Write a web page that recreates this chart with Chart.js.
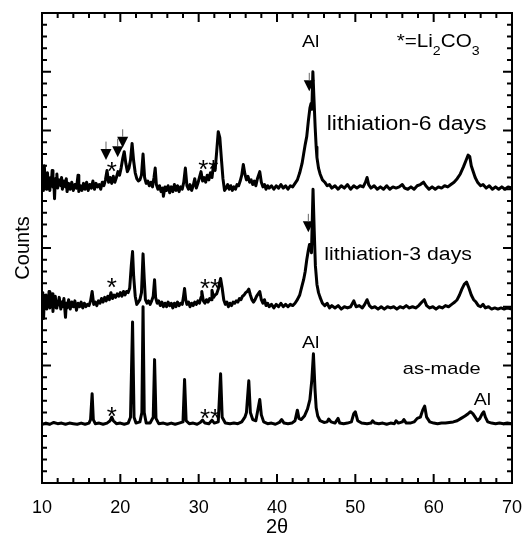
<!DOCTYPE html>
<html>
<head>
<meta charset="utf-8">
<script src="https://cdn.jsdelivr.net/npm/chart.js@4.4.0/dist/chart.umd.min.js"></script>
<style>
  body { margin: 0; background: #fff; }
  #wrap { width: 522px; height: 537px; }
</style>
</head>
<body>
<div id="wrap"><canvas id="xrd" width="522" height="537"></canvas></div>
<script>
// XRD patterns, [2theta, counts] (counts in arbitrary units, each trace offset)
const lith6 = [
  [10.0,25.2],[10.1,26.3],[10.2,24.9],[10.3,27.0],[10.4,25.4],[10.5,26.1],[10.6,25.0],[10.7,26.4],[10.8,25.3],[10.9,25.9],
  [11.0,24.9],[11.1,26.0],[11.2,25.6],[11.3,26.6],[11.4,25.2],[11.5,25.8],[11.6,24.2],[11.7,25.9],[11.8,25.5],[11.9,26.3],
  [12.0,25.1],[12.2,25.8],[12.4,25.3],[12.5,26.0],[12.6,25.0],[12.8,25.7],[13.0,25.2],[13.1,25.9],[13.2,24.8],[13.4,25.5],
  [13.6,25.0],[13.8,25.6],[14.0,24.9],[14.2,25.4],[14.4,25.1],[14.6,26.2],[14.7,24.8],[14.9,25.3],[15.1,24.9],[15.3,25.5],
  [15.5,25.0],[15.7,25.6],[15.9,24.9],[16.1,25.4],[16.3,25.1],[16.5,25.7],[16.7,25.0],[16.9,25.5],[17.1,25.2],[17.3,25.4],
  [17.5,25.0],[17.7,25.6],[17.9,25.3],[18.1,25.8],[18.3,26.6],[18.5,25.6],[18.7,26.0],[18.9,25.5],[19.1,26.1],[19.3,25.6],
  [19.5,26.0],[19.7,26.5],[19.9,26.2],[20.1,26.8],[20.3,27.6],[20.5,28.2],[20.7,27.2],[20.9,26.5],[21.1,26.8],[21.3,27.5],
  [21.5,28.9],[21.7,27.4],[21.9,26.4],[22.1,25.9],[22.3,25.7],[22.5,25.8],[22.7,26.2],[22.9,28.0],[23.1,26.0],[23.3,25.5],
  [23.5,25.7],[23.7,25.3],[23.9,25.6],[24.1,25.2],[24.3,26.0],[24.45,26.8],[24.6,25.4],[24.8,25.0],[25.0,25.3],[25.2,24.8],
  [25.4,25.1],[25.5,24.4],[25.7,25.2],[25.9,24.9],[26.1,25.3],[26.3,24.7],[26.5,25.2],[26.7,24.8],[26.9,25.4],[27.1,24.9],
  [27.3,25.3],[27.5,24.8],[27.7,25.2],[27.9,25.0],[28.1,25.6],[28.3,26.8],[28.5,25.3],[28.7,25.0],[28.9,25.4],[29.1,24.9],
  [29.3,25.3],[29.5,25.9],[29.7,25.1],[29.9,25.5],[30.1,26.0],[30.3,26.5],[30.5,25.7],[30.7,26.0],[30.9,25.6],[31.1,26.2],
  [31.3,25.8],[31.5,26.4],[31.7,26.0],[31.9,27.1],[32.1,26.6],[32.3,28.2],[32.5,29.9],[32.7,29.4],[32.9,27.6],[33.1,25.9],
  [33.3,24.9],[33.5,25.1],[33.7,25.4],[33.9,25.0],[34.1,25.3],[34.3,24.9],[34.5,25.2],[34.7,25.0],[34.9,25.4],[35.1,25.3],
  [35.3,25.7],[35.5,26.2],[35.7,27.1],[35.9,26.3],[36.1,25.8],[36.3,26.1],[36.5,25.6],[36.7,25.8],[36.9,25.4],[37.1,25.7],
  [37.3,25.3],[37.5,25.9],[37.8,26.5],[38.0,25.6],[38.2,25.2],[38.4,25.4],[38.6,25.0],[38.8,25.3],[39.0,25.1],[39.3,25.3],
  [39.6,25.0],[39.9,25.3],[40.2,25.1],[40.5,25.4],[40.8,25.1],[41.1,25.3],[41.4,25.0],[41.7,25.3],[42.0,25.2],[42.3,25.5],
  [42.6,25.8],[42.9,26.4],[43.2,27.2],[43.4,28.0],[43.6,28.8],[43.8,29.5],[44.0,30.8],[44.2,31.9],[44.35,32.3],[44.45,31.8],
  [44.58,35.0],[44.7,33.0],[44.87,30.3],[45.0,28.6],[45.1,27.7],[45.3,26.8],[45.5,26.3],[45.8,25.8],[46.1,25.6],[46.4,25.3],
  [46.7,25.4],[47.0,25.1],[47.4,25.3],[47.8,25.0],[48.2,25.3],[48.6,25.1],[49.0,25.4],[49.4,25.0],[49.8,25.3],[50.2,25.1],
  [50.6,25.3],[51.0,25.2],[51.3,25.6],[51.5,26.0],[51.7,25.4],[52.0,25.1],[52.4,25.3],[52.8,25.0],[53.2,25.2],[53.6,25.0],
  [54.0,25.3],[54.4,25.0],[54.8,25.2],[55.2,25.1],[55.6,25.2],[56.0,25.4],[56.3,25.1],[56.7,25.0],[57.1,25.2],[57.5,25.0],
  [57.9,25.3],[58.3,25.4],[58.7,25.6],[59.0,25.3],[59.4,25.0],[59.8,25.2],[60.2,25.0],[60.6,25.2],[61.0,25.1],[61.4,25.3],
  [61.8,25.2],[62.2,25.4],[62.6,25.6],[63.0,25.9],[63.4,26.3],[63.8,26.9],[64.1,27.4],[64.4,27.9],[64.6,27.8],[64.8,27.0],
  [65.0,26.6],[65.3,26.0],[65.6,25.6],[66.0,25.3],[66.3,25.4],[66.7,25.1],[67.1,25.3],[67.5,25.0],[67.9,25.2],[68.3,25.0],
  [68.7,25.2],[69.1,25.0],[69.5,25.2],[70.0,25.1]
];

const lith3 = [
  [10.0,15.0],[10.1,16.2],[10.2,14.0],[10.3,15.8],[10.4,15.1],[10.5,16.0],[10.6,14.8],[10.7,15.9],[10.8,15.2],[10.9,16.3],
  [11.0,14.9],[11.1,15.7],[11.2,15.0],[11.3,16.1],[11.4,14.6],[11.5,15.6],[11.6,15.0],[11.7,15.9],[11.8,14.9],[11.9,15.5],
  [12.0,15.1],[12.2,15.8],[12.4,14.8],[12.5,15.4],[12.6,15.0],[12.8,15.7],[13.0,14.1],[13.1,15.3],[13.2,14.9],[13.4,15.6],
  [13.6,14.8],[13.8,15.4],[14.0,15.0],[14.2,15.5],[14.4,14.7],[14.6,15.3],[14.8,15.0],[15.0,15.4],[15.2,14.9],[15.4,15.3],
  [15.6,15.0],[15.8,15.2],[16.0,15.1],[16.2,15.5],[16.4,16.3],[16.6,15.2],[16.8,15.4],[17.0,15.1],[17.2,15.5],[17.4,15.3],
  [17.6,15.7],[17.8,15.4],[18.0,15.8],[18.2,15.5],[18.4,15.9],[18.6,15.6],[18.8,16.2],[19.0,15.7],[19.2,16.0],[19.4,15.8],
  [19.6,16.1],[19.8,15.9],[20.0,16.2],[20.2,15.9],[20.4,16.3],[20.6,16.0],[20.8,16.3],[21.0,16.2],[21.2,16.6],[21.4,18.5],
  [21.56,19.7],[21.7,17.6],[21.9,15.9],[22.1,15.2],[22.3,15.4],[22.5,15.6],[22.7,16.2],[22.9,19.5],[23.05,17.4],[23.2,15.6],
  [23.4,15.3],[23.6,15.5],[23.8,15.2],[24.0,15.5],[24.2,15.9],[24.37,17.3],[24.5,15.8],[24.7,15.3],[24.9,15.5],[25.1,15.1],
  [25.3,15.4],[25.5,15.0],[25.7,15.3],[25.9,15.0],[26.1,15.4],[26.3,15.1],[26.5,15.3],[26.7,14.9],[26.9,15.3],[27.1,15.0],
  [27.3,15.4],[27.5,15.1],[27.7,15.3],[27.9,15.2],[28.05,15.8],[28.2,16.55],[28.35,15.6],[28.5,15.2],[28.7,15.4],[28.9,15.0],
  [29.1,15.3],[29.3,15.1],[29.5,15.4],[29.7,15.2],[29.9,15.5],[30.1,15.3],[30.3,15.8],[30.4,16.3],[30.6,15.5],[30.8,15.3],
  [31.0,15.6],[31.2,15.4],[31.4,15.7],[31.6,15.6],[31.7,16.4],[31.9,15.8],[32.1,16.0],[32.3,16.1],[32.5,16.5],[32.7,17.1],
  [32.8,17.4],[33.0,16.6],[33.2,15.6],[33.4,15.2],[33.6,15.4],[33.8,15.0],[34.0,15.3],[34.2,15.1],[34.4,15.4],[34.6,15.3],
  [34.8,15.5],[35.0,15.4],[35.2,15.7],[35.4,15.6],[35.6,15.9],[35.8,16.0],[36.0,16.2],[36.2,16.3],[36.4,16.5],[36.6,16.0],
  [36.8,15.6],[37.0,15.4],[37.2,15.6],[37.4,15.9],[37.6,16.1],[37.8,16.3],[38.0,15.6],[38.2,15.3],[38.4,15.6],[38.6,15.1],
  [38.8,15.3],[39.0,15.0],[39.3,15.2],[39.6,14.9],[39.9,15.2],[40.2,15.0],[40.5,15.3],[40.8,15.0],[41.1,15.2],[41.4,15.0],
  [41.7,15.2],[42.0,15.1],[42.3,15.3],[42.6,15.6],[42.9,16.0],[43.2,16.8],[43.4,17.3],[43.6,18.0],[43.8,19.0],[44.0,19.8],
  [44.15,20.3],[44.3,20.0],[44.4,19.6],[44.6,25.0],[44.75,21.5],[44.9,18.5],[45.1,16.9],[45.3,16.2],[45.5,15.8],[45.8,15.3],
  [46.1,15.1],[46.4,15.3],[46.7,14.9],[47.0,15.1],[47.4,14.9],[47.8,15.1],[48.2,14.8],[48.6,15.0],[49.0,14.9],[49.4,15.0],
  [49.8,15.5],[50.1,15.0],[50.5,15.1],[50.9,14.9],[51.2,15.2],[51.5,15.6],[51.8,15.1],[52.1,14.9],[52.5,15.0],[52.9,14.8],
  [53.3,15.0],[53.7,14.8],[54.1,15.0],[54.5,14.9],[54.9,15.0],[55.3,14.8],[55.7,15.0],[56.1,14.9],[56.5,15.1],[56.9,14.9],
  [57.3,15.0],[57.7,14.9],[58.1,15.1],[58.5,15.4],[58.8,15.6],[59.1,15.1],[59.5,14.9],[59.9,15.0],[60.3,14.8],[60.7,15.0],
  [61.1,14.9],[61.5,15.1],[61.9,15.0],[62.3,15.2],[62.7,15.4],[63.0,15.6],[63.3,16.0],[63.6,16.5],[63.9,16.9],[64.2,17.1],
  [64.5,16.6],[64.8,16.0],[65.1,15.6],[65.4,15.4],[65.7,15.1],[66.0,15.0],[66.3,15.2],[66.6,14.9],[67.0,15.0],[67.4,14.8],
  [67.8,14.9],[68.2,14.8],[68.6,14.9],[69.0,14.8],[69.4,14.9],[70.0,14.8]
];

const asMade = [
  [10.0,5.0],[10.5,5.1],[11.0,5.0],[11.5,5.15],[12.0,5.05],[12.5,5.1],[13.0,5.0],[13.5,5.1],[14.0,5.05],[14.5,5.0],
  [15.0,5.1],[15.5,5.0],[16.0,5.1],[16.2,5.4],[16.4,7.6],[16.55,5.4],[16.8,5.05],[17.3,5.1],[17.8,5.0],[18.3,5.1],
  [18.7,5.3],[18.9,5.6],[19.1,5.3],[19.5,5.05],[20.0,5.1],[20.5,5.0],[21.0,5.1],[21.3,5.6],[21.56,13.7],[21.75,5.6],
  [22.0,5.1],[22.5,5.2],[22.75,6.0],[22.9,15.0],[23.05,6.0],[23.3,5.1],[23.8,5.1],[24.2,5.6],[24.37,10.5],[24.55,5.5],
  [24.9,5.05],[25.5,5.1],[26.0,5.0],[26.5,5.1],[27.0,5.0],[27.5,5.1],[28.0,5.2],[28.2,8.8],[28.4,5.3],[28.8,5.05],
  [29.3,5.1],[29.8,5.0],[30.2,5.15],[30.5,5.35],[30.8,5.1],[31.3,5.05],[31.7,5.35],[32.0,5.1],[32.5,5.2],[32.8,9.3],
  [33.0,5.6],[33.4,5.1],[34.0,5.05],[34.5,5.1],[35.0,5.05],[35.5,5.2],[35.9,5.6],[36.1,6.0],[36.4,8.7],[36.6,6.0],
  [36.9,5.4],[37.3,5.3],[37.55,6.2],[37.8,7.1],[38.0,5.8],[38.3,5.2],[38.8,5.05],[39.3,5.1],[39.8,5.0],[40.3,5.15],
  [40.6,5.4],[40.9,5.1],[41.4,5.05],[41.9,5.1],[42.3,5.3],[42.6,6.2],[42.8,5.5],[43.1,5.4],[43.5,5.7],[43.9,6.3],
  [44.2,7.1],[44.45,8.8],[44.65,11.0],[44.85,8.0],[45.0,6.4],[45.2,5.7],[45.5,5.3],[46.0,5.15],[46.4,5.2],[46.6,5.45],
  [46.9,5.2],[47.4,5.1],[47.8,5.5],[48.0,5.1],[48.5,5.05],[49.0,5.1],[49.5,5.2],[49.8,5.9],[50.0,6.06],[50.3,5.3],
  [50.8,5.1],[51.5,5.05],[52.0,5.1],[52.2,5.3],[52.5,5.1],[53.0,5.05],[53.5,5.1],[54.0,5.0],[54.5,5.1],[55.0,5.05],
  [55.2,5.3],[55.5,5.1],[56.0,5.2],[56.2,5.4],[56.5,5.1],[57.0,5.1],[57.5,5.2],[57.9,5.5],[58.3,5.6],[58.6,6.2],
  [58.85,6.55],[59.1,5.6],[59.5,5.2],[60.0,5.1],[60.5,5.05],[61.0,5.1],[61.5,5.1],[62.0,5.15],[62.5,5.2],[63.0,5.3],
  [63.5,5.5],[64.0,5.7],[64.4,5.9],[64.7,6.06],[65.0,5.9],[65.3,5.6],[65.6,5.3],[65.9,5.5],[66.2,5.9],[66.4,6.06],
  [66.6,5.6],[66.9,5.2],[67.4,5.1],[67.9,5.05],[68.4,5.1],[68.9,5.05],[69.4,5.1],[70.0,5.05]
];

// down-triangle peak markers [2theta, counts]
const triangles = [[18.17, 27.95], [19.66, 28.2], [20.3, 29.0], [44.12, 33.8], [44.0, 21.8]];

// Li2CO3 stars [text, 2theta, counts]
const stars = [
  ['*', 18.9, 27.1], ['**', 31.23, 27.2],
  ['*', 18.9, 17.2], ['**', 31.45, 17.1],
  ['*', 18.9, 6.2], ['**', 31.45, 6.06]
];

// text labels [text, 2theta, counts at baseline, align]
const notes = [
  ['Al', 44.3, 37.1, 'center'],
  ['lithiation-6 days', 46.35, 30.02, 'left'],
  ['lithiation-3 days', 46.04, 19.02, 'left'],
  ['as-made', 56.05, 9.27, 'left'],
  ['Al', 44.3, 11.45, 'center'],
  ['Al', 66.21, 6.63, 'center']
];
const noteSizes = [16.5, 19.5, 18, 17, 16.5, 16.5];

const FONT = 'Liberation Sans, Arial, sans-serif';

const decor = {
  id: 'decor',
  afterDraw(chart) {
    const { ctx, chartArea: a, scales } = chart;
    const xs = scales.x, ys = scales.y;
    ctx.save();
    ctx.strokeStyle = '#000';
    ctx.fillStyle = '#000';
    ctx.lineWidth = 2;
    ctx.strokeRect(a.left, a.top, a.right - a.left, a.bottom - a.top);

    // inward ticks on all four sides
    ctx.beginPath();
    for (let v = 10; v <= 70; v += 2) {
      const px = xs.getPixelForValue(v);
      const len = v % 10 === 0 ? 9 : 5;
      ctx.moveTo(px, a.bottom); ctx.lineTo(px, a.bottom - len);
      ctx.moveTo(px, a.top); ctx.lineTo(px, a.top + len);
    }
    for (let v = 0; v <= 40; v += 1) {
      const py = ys.getPixelForValue(v);
      const len = v % 5 === 0 ? 9 : 5;
      ctx.moveTo(a.left, py); ctx.lineTo(a.left + len, py);
      ctx.moveTo(a.right, py); ctx.lineTo(a.right - len, py);
    }
    ctx.stroke();

    // triangles with small arrows
    triangles.forEach(([tx, ty]) => {
      const px = xs.getPixelForValue(tx), py = ys.getPixelForValue(ty);
      ctx.fillStyle = '#000';
      ctx.beginPath();
      ctx.moveTo(px - 5.5, py - 5.5);
      ctx.lineTo(px + 5.5, py - 5.5);
      ctx.lineTo(px, py + 5.5);
      ctx.closePath();
      ctx.fill();
      ctx.strokeStyle = '#666';
      ctx.lineWidth = 1;
      ctx.beginPath();
      ctx.moveTo(px, py - 5.5);
      ctx.lineTo(px, py - 13);
      ctx.stroke();
    });

    // stars
    ctx.fillStyle = '#000';
    ctx.font = '26px ' + FONT;
    ctx.textAlign = 'center';
    ctx.textBaseline = 'alphabetic';
    stars.forEach(([s, sx, sy]) => {
      ctx.fillText(s, xs.getPixelForValue(sx), ys.getPixelForValue(sy) + 15);
    });

    // labels, slightly stretched horizontally like the original
    notes.forEach(([t, nx, ny, align], i) => {
      ctx.save();
      ctx.translate(xs.getPixelForValue(nx), ys.getPixelForValue(ny));
      ctx.scale(1.18, 1);
      ctx.font = noteSizes[i] + 'px ' + FONT;
      ctx.textAlign = align;
      ctx.fillText(t, 0, 0);
      ctx.restore();
    });

    // *=Li2CO3
    ctx.save();
    ctx.translate(xs.getPixelForValue(55.28), ys.getPixelForValue(37.1));
    ctx.scale(1.18, 1);
    ctx.textAlign = 'left';
    let cx = 0;
    [['*=Li', 17.5, 0], ['2', 12, 8], ['CO', 17.5, 0], ['3', 12, 8]].forEach(([t, sz, dy]) => {
      ctx.font = sz + 'px ' + FONT;
      ctx.fillText(t, cx, dy);
      cx += ctx.measureText(t).width;
    });
    ctx.restore();
    ctx.restore();
  }
};

const line = (data) => ({
  data: data,
  borderColor: '#000',
  borderWidth: 3,
  pointRadius: 0,
  tension: 0,
  borderJoinStyle: 'round',
  fill: false
});

new Chart(document.getElementById('xrd'), {
  type: 'line',
  data: { datasets: [line(asMade), line(lith3), line(lith6)] },
  options: {
    responsive: false,
    animation: false,
    layout: { padding: { top: 13, right: 10, left: 0, bottom: 0 } },
    plugins: { legend: { display: false }, tooltip: { enabled: false } },
    scales: {
      x: {
        type: 'linear',
        min: 10, max: 70,
        grid: { display: false },
        border: { display: false },
        ticks: { stepSize: 10, color: '#000', padding: 6, font: { family: FONT, size: 18 } },
        title: { display: true, text: '2θ', color: '#000', padding: 0,
                 font: { family: FONT, size: 20, lineHeight: 1 } },
        afterFit(s) { s.height = 54; s.paddingLeft = 0; s.paddingRight = 0; }
      },
      y: {
        min: 0, max: 40,
        grid: { display: false },
        border: { display: false },
        ticks: { display: false },
        title: { display: true, text: 'Counts', color: '#000', padding: { top: 13.5, bottom: 0 },
                 font: { family: FONT, size: 20, lineHeight: 1 } },
        afterFit(s) { s.width = 42; s.paddingTop = 0; s.paddingBottom = 0; }
      }
    }
  },
  plugins: [decor]
});
</script>
</body>
</html>
